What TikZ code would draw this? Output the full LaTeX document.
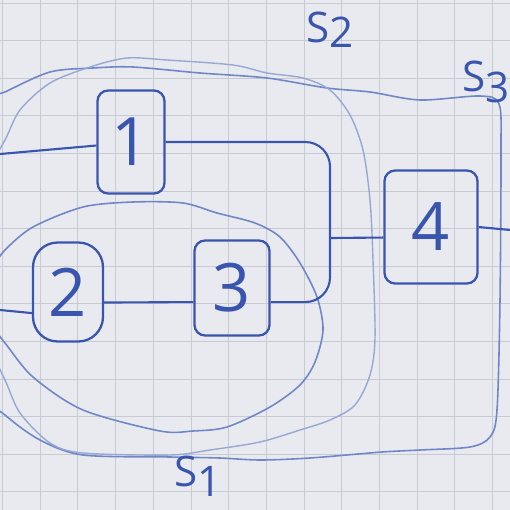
\documentclass[tikz,border=0pt]{standalone}
\usepackage{fontspec}
\setmainfont{Open Sans}
\usepackage{tikz}
\usetikzlibrary{calc}
\definecolor{PaperBg}{HTML}{E8EAF0}
\definecolor{PaperGrid}{HTML}{C8CAD1}
\definecolor{PenInk}{HTML}{3A55AE}
\definecolor{PenSoft}{HTML}{6F87C6}
\definecolor{PenFaint}{HTML}{98A8D4}

\begin{document}
\begin{tikzpicture}[x=0.02cm, y=-0.02cm,
  box/.style={draw=PenInk, line width=1.3pt, rounded corners=6pt, inner sep=0pt,
    text=PenInk, font=\fontsize{38}{38}\selectfont},
  wire/.style={draw=PenInk, line width=1.2pt},
  setlab/.style={text=PenInk, font=\fontsize{24}{24}\selectfont}]
  % paper
  \fill[PaperBg] (0,0) rectangle (510,510);
  \useasboundingbox (0,0) rectangle (510,510);
  \clip (0,0) rectangle (510,510);
  \foreach \k in {0,...,13} {
    \draw[PaperGrid, line width=0.5pt] (2.5+37.7*\k,0) -- (2.5+37.7*\k,510);
    \draw[PaperGrid, line width=0.5pt] (0,3+37.6*\k) -- (510,3+37.6*\k);
  }

  % S3
  \draw[PenSoft, line width=0.9pt] plot[smooth cycle, tension=0.5] coordinates {
    (-60,250) (-30,110) (5,92) (50,72) (93,68) (133,67) (200,73) (267,78)
    (327,88) (370,92) (420,100) (480,96) (499,104) (501,150) (500,300)
    (497,410) (490,437) (470,447) (420,450) (382,452) (310,458) (260,460)
    (220,458) (170,457) (83,455) (40,440) (5,415) (-30,380)};
  % S2
  \draw[PenFaint, line width=0.8pt] plot[smooth cycle, tension=0.5] coordinates {
    (-60,260) (-15,175) (5,140) (20,110) (50,83) (90,67) (127,58) (167,60)
    (233,65) (267,73) (303,78) (330,90) (350,115) (363,150) (370,200)
    (373,260) (375,338) (370,375) (355,405) (330,420) (300,430) (260,442)
    (210,450) (170,455) (83,453) (50,443) (20,413) (5,380) (-15,340)};
  % S1
  \draw[PenSoft, line width=0.9pt] plot[smooth cycle, tension=0.5] coordinates {
    (-40,300) (-10,270) (5,250) (33,227) (83,207) (133,202) (183,203) (217,213)
    (255,223) (280,237) (300,263) (317,297) (323,330) (315,362) (300,385)
    (270,407) (227,427) (193,431) (160,431) (83,410) (33,377) (5,343) (-10,325)};

  \node[box, minimum width=1.34cm, minimum height=2.06cm] (b1) at (131,142) {1};
  \node[box, rounded corners=14pt, minimum width=1.4cm, minimum height=1.98cm] (b2) at (68,292) {2};
  \node[box, minimum width=1.5cm, minimum height=1.9cm] (b3) at (232,288) {3};
  \node[box, minimum width=1.86cm, minimum height=2.26cm] (b4) at (431,227) {4};

  \coordinate (in1) at (0,154);
  \coordinate (in2) at (0,310);
  \coordinate (out4) at (510,230);
  \coordinate (tee) at (330,238);

  \draw[wire] (in1) -- ([yshift=-2pt]b1.west);
  \draw[wire] (in2) -- ([yshift=-12pt]b2.west);
  \draw[wire] ([yshift=-6pt]b2.east) -- ([yshift=-8pt]b3.west);
  \draw[wire, rounded corners=14pt] (b1.east) -| (tee) |- ([yshift=-8pt]b3.east);
  \draw[wire] (tee) -- ([yshift=-6pt]b4.west);
  \draw[wire] (b4.east) -- (out4);

  \node[setlab] (s1lab) at (198,476) {S\raisebox{-6pt}{1}};
  \node[setlab] (s2lab) at (330,30) {S\raisebox{-3pt}{2}};
  \node[setlab] (s3lab) at (486,82) {S\raisebox{-6pt}{3}};
\end{tikzpicture}
\end{document}
